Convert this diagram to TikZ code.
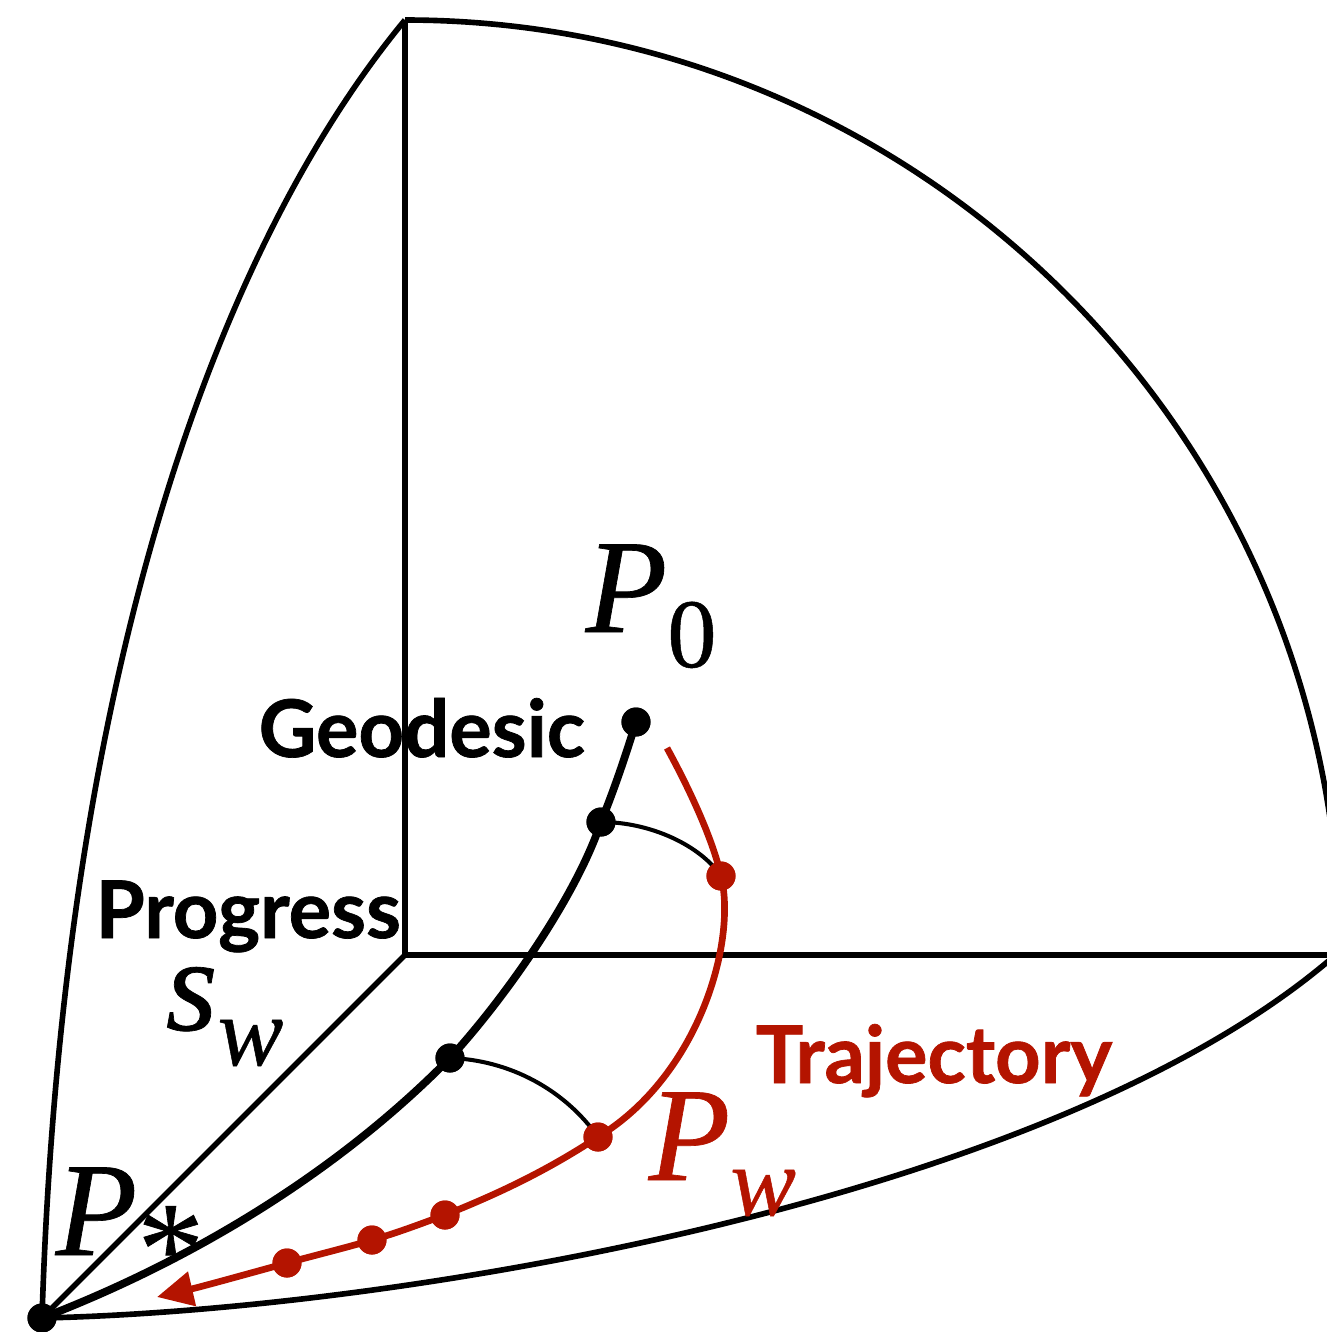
\documentclass[tikz,border=0pt]{standalone}
\usepackage{fontspec}
\newfontfamily\latofont{Lato}[FakeBold=0.9]
\newfontfamily\symfont{Liberation Serif}[FakeBold=0.5]
\usetikzlibrary{arrows.meta}
\definecolor{trajred}{RGB}{180,20,0}
\begin{document}
\begin{tikzpicture}[x=0.01cm,y=-0.01cm,
  frame/.style={line width=1.6pt, black},
  geo/.style={line width=2.2pt, black},
  thinarc/.style={line width=1.15pt, black},
  trajline/.style={line width=1.9pt, trajred},
  bdot/.style={circle, fill=black, inner sep=0pt, minimum size=0.29cm},
  rdot/.style={circle, fill=trajred, inner sep=0pt, minimum size=0.29cm},
  word/.style={font=\latofont\bfseries\fontsize{22.6}{24}\selectfont, inner sep=0pt, anchor=base west},
  sym/.style={font=\symfont\itshape\fontsize{38}{40}\selectfont, inner sep=0pt, anchor=base west},
]
\useasboundingbox (0,0) rectangle (1327,1332);
\clip (0,0) rectangle (1327,1332);
% frame coordinates
\coordinate (O) at (405,955);
\coordinate (T) at (405,20);
\coordinate (R) at (1340,955);
\coordinate (Rb) at (1332,958);
% points
\node[bdot] (P0) at (636,722) {};
\node[bdot] (g1) at (601,822) {};
\node[bdot] (g2) at (450,1058) {};
\node[bdot] (Ps) at (42,1318) {};
\node[rdot] (r1) at (721,876) {};
\node[rdot] (r2) at (598,1137) {};
\node[rdot] (r3) at (445,1215) {};
\node[rdot] (r4) at (372,1240) {};
\node[rdot] (r5) at (287,1263) {};
\coordinate (tstart) at (667,748);
\coordinate (tend) at (157,1297);
% frame
\draw[frame] (T) -- (O) -- (R);
\draw[frame] (O) -- (Ps.center);
\draw[frame] (Ps.center) .. controls (62,680) and (215,250) .. (T);
\draw[frame] (T) .. controls (921,20) and (1340,439) .. (R);
\draw[frame] (Ps.center) .. controls (400,1310) and (1050,1200) .. (Rb);
% geodesic
\draw[geo] (P0.center) .. controls (628,748) and (616,785) .. (g1.center)
  .. controls (576,897) and (505,998) .. (g2.center)
  .. controls (330,1180) and (180,1265) .. (Ps.center);
% thin arcs
\draw[thinarc] (g1.center) .. controls (650,822) and (700,845) .. (r1.center);
\draw[thinarc] (g2.center) .. controls (510,1060) and (565,1090) .. (r2.center);
% trajectory
\draw[trajline, -{Triangle[length=0.36cm,width=0.34cm]}]
  (tstart) .. controls (690,790) and (713,840) .. (r1.center)
  .. controls (737,940) and (700,1075) .. (r2.center)
  .. controls (545,1172) and (495,1195) .. (r3.center)
  .. controls (420,1224) and (397,1233) .. (r4.center)
  .. controls (345,1248) and (316,1255) .. (r5.center)
  .. controls (240,1276) and (200,1287) .. (tend);
% dots on top
\foreach \n in {P0,g1,g2,Ps} \fill (\n) circle (0.145cm);
\foreach \n in {r1,r2,r3,r4,r5} \fill[trajred] (\n) circle (0.145cm);
% labels
\node[sym] (lP0) at (585,632) {P\raisebox{-10pt}{\fontsize{28}{30}\selectfont\upshape 0}};
\node[word] (lgeo) at (258,757) {Geodesic};
\node[word] (lprog) at (95,938) {Progress};
\node[sym] (lsw) at (165,1030) {s\raisebox{-10pt}{\fontsize{28}{30}\selectfont w}};
\node[sym] (lPs) at (55,1255) {P\raisebox{-11pt}{\fontsize{38}{40}\selectfont\upshape *}};
\node[word, text=trajred] (ltraj) at (755,1083) {Trajectory};
\node[sym, text=trajred] (lPw) at (648,1180) {P\raisebox{-10pt}{\fontsize{28}{30}\selectfont w}};
\end{tikzpicture}
\end{document}
